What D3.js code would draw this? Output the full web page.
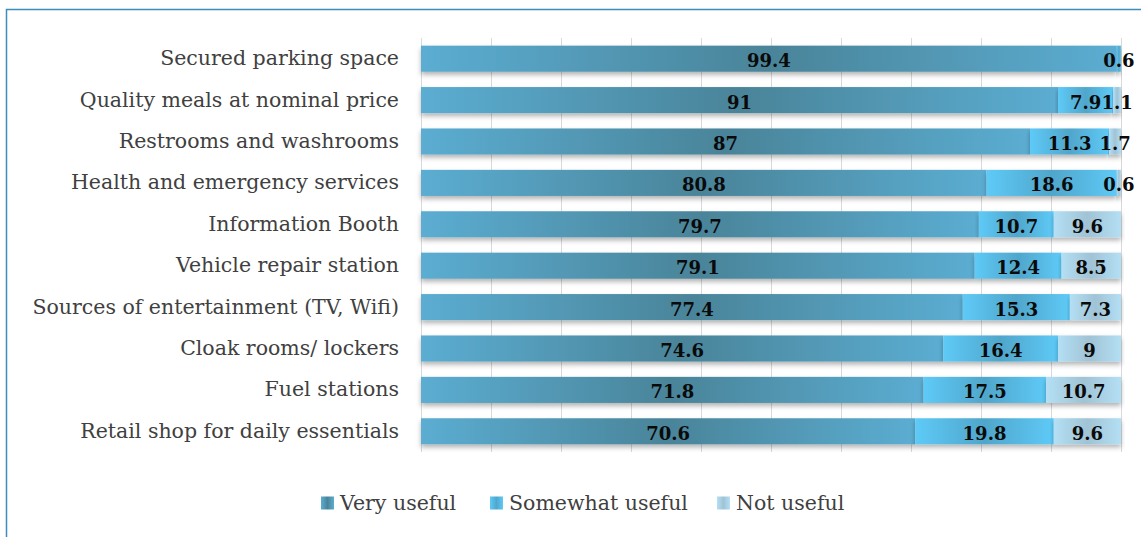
<!DOCTYPE html>
<html>
<head>
<meta charset="utf-8">
<script src="https://cdn.jsdelivr.net/npm/d3@7"></script>
<style>
  html, body { margin: 0; padding: 0; background: #ffffff; }
  svg { display: block; }
</style>
</head>
<body>
<svg id="chart" width="1141" height="537"></svg>
<script>
// Amenities at highway rest stops: share of respondents (%) by usefulness rating
const categories = [
  "Secured parking space",
  "Quality meals at nominal price",
  "Restrooms and washrooms",
  "Health and emergency services",
  "Information Booth",
  "Vehicle repair station",
  "Sources of entertainment (TV, Wifi)",
  "Cloak rooms/ lockers",
  "Fuel stations",
  "Retail shop for daily essentials"
];
const veryUseful     = [99.4, 91, 87, 80.8, 79.7, 79.1, 77.4, 74.6, 71.8, 70.6];
const somewhatUseful = [0.6, 7.9, 11.3, 18.6, 10.7, 12.4, 15.3, 16.4, 17.5, 19.8];
const notUseful      = [0, 1.1, 1.7, 0.6, 9.6, 8.5, 7.3, 9, 10.7, 9.6];
const seriesNames = ["Very useful", "Somewhat useful", "Not useful"];
const xTicks = [0, 10, 20, 30, 40, 50, 60, 70, 80, 90, 100];

const rows = categories.map((c, i) => ({
  category: c,
  "Very useful": veryUseful[i],
  "Somewhat useful": somewhatUseful[i],
  "Not useful": notUseful[i]
}));

const svg = d3.select("#chart");
const W = 1141, H = 537;

// Gradient fills: lighter at both ends of a segment, deeper in the middle
const fills = {
  "Very useful":     { edge: "#5badd2", mid: "#4a8499" },
  "Somewhat useful": { edge: "#5ecaf7", mid: "#50a6cb" },
  "Not useful":      { edge: "#b4dff4", mid: "#a0c3d5" }
};
const defs = svg.append("defs");
seriesNames.forEach((name, k) => {
  const g = defs.append("linearGradient")
    .attr("id", "grad" + k)
    .attr("x1", "0%").attr("x2", "100%").attr("y1", "0%").attr("y2", "0%");
  g.append("stop").attr("offset", "0%").attr("stop-color", fills[name].edge);
  g.append("stop").attr("offset", "50%").attr("stop-color", fills[name].mid);
  g.append("stop").attr("offset", "100%").attr("stop-color", fills[name].edge);
});
const shadow = defs.append("filter").attr("id", "shadow")
  .attr("x", "-5%").attr("y", "-30%").attr("width", "110%").attr("height", "180%");
shadow.append("feDropShadow")
  .attr("dx", 0).attr("dy", 3).attr("stdDeviation", 2.5)
  .attr("flood-color", "#000").attr("flood-opacity", 0.3);

// Chart frame (left and top edges)
svg.append("path")
  .attr("d", `M6.5,${H} V9.5 H${W}`)
  .attr("fill", "none")
  .attr("stroke", "#3d8dbd")
  .attr("stroke-width", 1.5);

const x = d3.scaleLinear().domain([0, 100]).range([421, 1121]);
const y = d3.scaleBand().domain(categories).range([38, 452])
  .paddingInner(0.37).paddingOuter(0.185);

// Vertical gridlines
svg.append("g").selectAll("line").data(xTicks).join("line")
  .attr("x1", d => Math.round(x(d)) + 0.5)
  .attr("x2", d => Math.round(x(d)) + 0.5)
  .attr("y1", 38).attr("y2", 452)
  .attr("stroke", "#d9d9d9").attr("stroke-width", 1);

// Category axis
const yAxis = svg.append("g")
  .attr("transform", "translate(421,0)")
  .call(d3.axisLeft(y).tickSize(0).tickPadding(22));
yAxis.select(".domain").remove();
yAxis.selectAll("text")
  .attr("font-family", "'DejaVu Serif', serif")
  .attr("font-size", 20.5)
  .attr("fill", "#404040");

// Stacked bars
const stack = d3.stack().keys(seriesNames)(rows);
const layers = svg.append("g").selectAll("g").data(stack).join("g")
  .attr("fill", (d, k) => `url(#grad${k})`);
layers.selectAll("rect")
  .data(d => d.filter(s => s[1] - s[0] > 0))
  .join("rect")
  .attr("x", d => x(d[0]))
  .attr("width", d => x(d[1]) - x(d[0]))
  .attr("y", d => y(d.data.category))
  .attr("height", y.bandwidth())
  .attr("filter", "url(#shadow)");

// Value labels centred in each segment
const labels = svg.append("g");
stack.forEach(layer => {
  layer.forEach(s => {
    const v = s[1] - s[0];
    if (v <= 0) return;
    labels.append("text")
      .attr("x", x((s[0] + s[1]) / 2))
      .attr("y", y(s.data.category) + y.bandwidth() / 2 + 2)
      .attr("text-anchor", "middle")
      .attr("dominant-baseline", "central")
      .attr("font-family", "'DejaVu Serif', serif")
      .attr("font-weight", "bold")
      .attr("font-size", 18)
      .attr("fill", "#0a0a0a")
      .text(d3.format("~g")(+v.toFixed(1)));
  });
});

// Legend
const legendX = [321, 490, 717];
const legend = svg.append("g");
seriesNames.forEach((name, k) => {
  const g = legend.append("g").attr("transform", `translate(${legendX[k]},503)`);
  g.append("rect")
    .attr("x", 0).attr("y", -6.5).attr("width", 13).attr("height", 13)
    .attr("fill", `url(#grad${k})`);
  g.append("text")
    .attr("x", 19).attr("y", 0)
    .attr("dominant-baseline", "central")
    .attr("font-family", "'DejaVu Serif', serif")
    .attr("font-size", 20.5)
    .attr("fill", "#404040")
    .text(name);
});
</script>
</body>
</html>
